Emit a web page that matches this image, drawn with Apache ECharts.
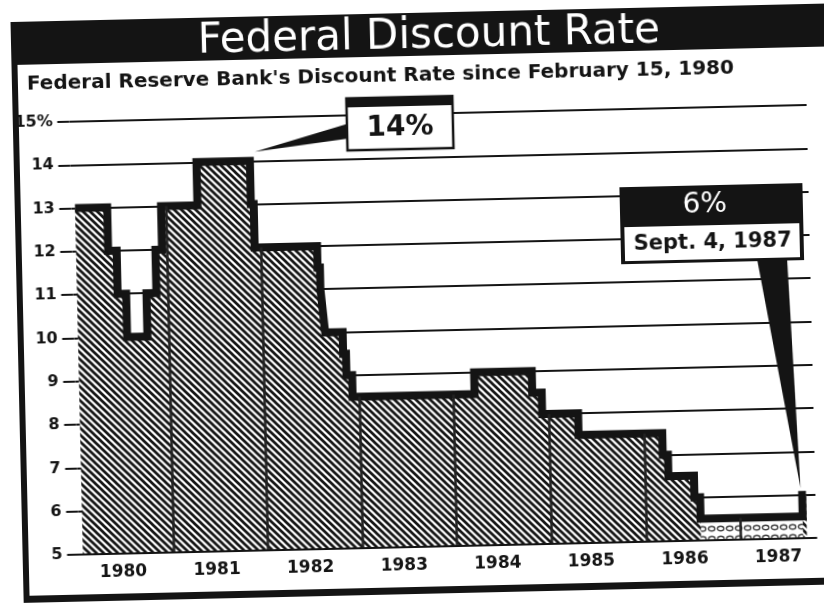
<!DOCTYPE html>
<html>
<head>
<meta charset="utf-8">
<script src="https://cdn.jsdelivr.net/npm/echarts@6.0.0/dist/echarts.min.js"></script>
<style>
html,body{margin:0;padding:0;background:#fff;overflow:hidden;width:824px;height:607px;}
#c{position:absolute;left:0;top:0;width:870px;height:650px;transform-origin:412px 303.5px;transform:rotate(-1.3deg);}
</style>
</head>
<body>
<div id="c"></div>
<script>
// ---- data (dates as fractional years) ----
const changeDates = [1980.04, 1980.38, 1980.47, 1980.56, 1980.775, 1980.88, 1980.95,
  1981.335, 1981.90, 1981.93,
  1982.59, 1982.615, 1982.635, 1982.655, 1982.84, 1982.87, 1982.93,
  1984.22, 1984.83, 1984.93,
  1985.31,
  1986.195, 1986.25, 1986.52, 1986.58,
  1987.66];
const rates = [13, 12, 11, 10, 11, 12, 13,
  14, 13, 12,
  11.5, 11, 10.5, 10, 9.5, 9, 8.5,
  9, 8.5, 8,
  7.5,
  7, 6.5, 6, 5.5,
  6];
const seriesEnd = 1987.70;
const years = ['1980', '1981', '1982', '1983', '1984', '1985', '1986', '1987'];
const yTickLabels = ['5', '6', '7', '8', '9', '10', '11', '12', '13', '14', '15%'];
const titleText = 'Federal Discount Rate';
const subtitleText = "Federal Reserve Bank's Discount Rate since February 15, 1980";
const peakLabel = '14%';
const lastLabel = '6%';
const lastDateLabel = 'Sept. 4, 1987';

// ---- helpers ----
const mainData = changeDates.map((t, i) => [t, rates[i]]);
mainData.push([seriesEnd, rates[rates.length - 1]]);
function rateAt(t) {
  let r = rates[0];
  for (let i = 0; i < changeDates.length; i++) if (changeDates[i] <= t) r = rates[i];
  return r;
}
const lowData = [];
for (let i = 0; i < rates.length; i++) {
  if (rates[i] <= 5.5) {
    const tEnd = i + 1 < changeDates.length ? changeDates[i + 1] : seriesEnd;
    lowData.push([changeDates[i], rates[i]], [tEnd, rates[i]]);
  }
}
const dividerData = years.slice(1).map(y => {
  const t = Number(y);
  return [{ coord: [t, 5] }, { coord: [t, rateAt(t)] }];
});

function makeHatch() {
  const s = 7, c = document.createElement('canvas');
  c.width = s; c.height = s;
  const g = c.getContext('2d');
  g.fillStyle = '#fff'; g.fillRect(0, 0, s, s);
  g.strokeStyle = '#161616'; g.lineWidth = 2.7;
  g.beginPath();
  for (let k = -1; k <= 1; k++) { g.moveTo(k * s - 1, -1); g.lineTo(k * s + s + 1, s + 1); }
  g.stroke();
  return c;
}
function makeDots() {
  const c = document.createElement('canvas');
  c.width = 9; c.height = 10;
  const g = c.getContext('2d');
  g.fillStyle = '#fff'; g.fillRect(0, 0, 9, 10);
  g.strokeStyle = '#444'; g.lineWidth = 1.4;
  g.beginPath(); g.ellipse(4.5, 5.5, 3.2, 2.3, 0, 0, Math.PI * 2); g.stroke();
  return c;
}

const chart = echarts.init(document.getElementById('c'), null, { renderer: 'canvas' });
const ink = '#141414';

chart.setOption({
  animation: false,
  backgroundColor: '#fff',
  grid: [
    { left: 73.5, width: 737.5, top: 114, height: 433, containLabel: false, outerBoundsMode: 'none' },
    { left: 70.7, width: 748.8, top: 114, height: 433, containLabel: false, outerBoundsMode: 'none' }
  ],
  xAxis: [
    {
      type: 'value', gridIndex: 0, min: 1980, max: 1987.8, z: 6,
      axisLine: { show: true, lineStyle: { color: ink, width: 2 } },
      axisTick: { show: false }, axisLabel: { show: false }, splitLine: { show: false }
    },
    {
      type: 'category', gridIndex: 1, data: years, boundaryGap: true,
      axisLine: { show: false }, axisTick: { show: false }, splitLine: { show: false },
      axisLabel: { color: ink, fontFamily: 'DejaVu Sans', fontWeight: 'bold', fontSize: 17, margin: 10 }
    }
  ],
  yAxis: [
    {
      type: 'value', gridIndex: 0, min: 5, max: 15, interval: 1,
      axisLine: { show: false },
      axisTick: { show: true, length: 12, lineStyle: { color: ink, width: 2 } },
      splitLine: { show: true, lineStyle: { color: ink, width: 2 } },
      axisLabel: {
        color: ink, fontFamily: 'DejaVu Sans', fontWeight: 'bold', fontSize: 16, margin: 16.5,
        formatter: v => yTickLabels[Math.round(v) - 5]
      }
    },
    { type: 'value', gridIndex: 1, min: 5, max: 15, show: false }
  ],
  series: [
    {
      name: 'area', type: 'line', step: 'end', xAxisIndex: 0, yAxisIndex: 0,
      data: mainData, symbol: 'none', z: 2,
      lineStyle: { width: 0, opacity: 0 },
      areaStyle: { color: { image: makeHatch(), repeat: 'repeat' }, opacity: 1, origin: 'start' }
    },
    {
      name: 'low', type: 'line', step: 'end', xAxisIndex: 0, yAxisIndex: 0,
      data: lowData, symbol: 'none', z: 3,
      lineStyle: { width: 0, opacity: 0 },
      areaStyle: { color: { image: makeDots(), repeat: 'repeat' }, opacity: 1, origin: 'start' },
      markLine: {
        silent: true, symbol: ['none', 'none'], label: { show: false },
        lineStyle: { color: '#222', width: 2.5, type: 'solid' },
        data: dividerData
      }
    },
    {
      name: 'rate', type: 'line', step: 'end', xAxisIndex: 0, yAxisIndex: 0,
      data: mainData, symbol: 'none', z: 4,
      lineStyle: { color: ink, width: 8, join: 'miter', cap: 'butt' }
    }
  ]
});

// ---- annotations anchored to data points ----
const peakIdx = rates.indexOf(14);
const pPeak = chart.convertToPixel({ xAxisIndex: 0, yAxisIndex: 0 }, [changeDates[peakIdx + 1], 14]);
const pLast = chart.convertToPixel({ xAxisIndex: 0, yAxisIndex: 0 }, [changeDates[changeDates.length - 1], rates[rates.length - 1]]);
const tipPeak = [pPeak[0] + 5, pPeak[1] - 9];
const tipLast = [pLast[0] - 1.5, pLast[1] - 7];

chart.setOption({
  graphic: [
    // frame
    { type: 'rect', z: 50, shape: { x: 17, y: 13, width: 860, height: 43 }, style: { fill: ink } },
    { type: 'rect', z: 50, shape: { x: 17, y: 13, width: 6, height: 581 }, style: { fill: ink } },
    { type: 'rect', z: 50, shape: { x: 17, y: 587, width: 860, height: 7 }, style: { fill: ink } },
    { type: 'text', z: 51, style: { text: titleText, x: 435, y: 37.5, fill: '#fff', font: '42px "DejaVu Sans"', align: 'center', verticalAlign: 'middle' } },
    { type: 'text', z: 51, style: { text: subtitleText, x: 32, y: 76, fill: ink, font: 'bold 20px "DejaVu Sans"', align: 'left', verticalAlign: 'middle' } },
    // 14% callout
    { type: 'polygon', z: 60, shape: { points: [[353, 122], [353, 137], tipPeak] }, style: { fill: ink } },
    { type: 'rect', z: 60, shape: { x: 351, y: 97, width: 106, height: 52 }, style: { fill: '#fff', stroke: ink, lineWidth: 2.5 } },
    { type: 'rect', z: 61, shape: { x: 350, y: 96, width: 108, height: 10 }, style: { fill: ink } },
    { type: 'text', z: 62, style: { text: peakLabel, x: 404, y: 128, fill: ink, font: 'bold 28px "DejaVu Sans"', align: 'center', verticalAlign: 'middle' } },
    // 6% callout
    { type: 'polygon', z: 60, shape: { points: [[758, 267], [788, 267], tipLast] }, style: { fill: ink } },
    { type: 'rect', z: 60, shape: { x: 622, y: 192, width: 183, height: 77 }, style: { fill: ink } },
    { type: 'rect', z: 61, shape: { x: 626, y: 232, width: 175, height: 34 }, style: { fill: '#fff' } },
    { type: 'text', z: 62, style: { text: lastLabel, x: 707, y: 212, fill: '#fff', font: '28px "DejaVu Sans"', align: 'center', verticalAlign: 'middle' } },
    { type: 'text', z: 62, style: { text: lastDateLabel, x: 714, y: 250, fill: ink, font: 'bold 21px "DejaVu Sans"', align: 'center', verticalAlign: 'middle' } }
  ]
});
</script>
</body>
</html>
